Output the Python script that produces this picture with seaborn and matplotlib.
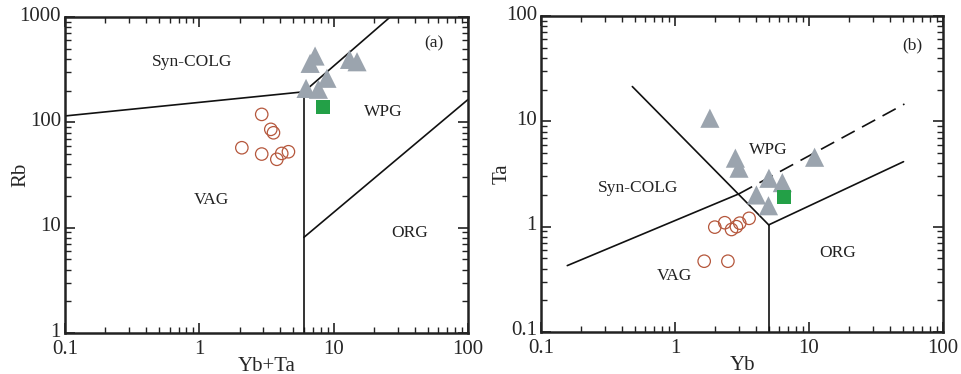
import numpy as np
import pandas as pd
import matplotlib
matplotlib.use("Agg")
import matplotlib.pyplot as plt
import seaborn as sns
from matplotlib.ticker import LogLocator, FuncFormatter, NullFormatter
from matplotlib.transforms import ScaledTranslation

# ---------------- data ----------------
# Panel (a): Rb vs Yb+Ta
a_tri_x = [6.67, 7.26, 8.9, 6.22, 7.69, 13.1, 14.9]
a_tri_y = [363, 426, 262, 210, 206, 396, 376]
a_sq_x = [8.3]
a_sq_y = [139]
a_cir_x = [2.91, 3.40, 3.56, 2.07, 2.91, 3.77, 4.10, 4.60]
a_cir_y = [119, 85.8, 79.6, 57.4, 50, 44.6, 50.7, 52.6]

# Panel (b): Ta vs Yb
b_tri_x = [1.82, 2.82, 3.0, 5.02, 6.32, 4.05, 4.98, 11.0]
b_tri_y = [10.7, 4.47, 3.59, 2.88, 2.62, 2.0, 1.58, 4.56]
b_sq_x = [6.5]
b_sq_y = [1.93]
b_cir_x = [1.98, 2.35, 2.64, 2.87, 3.04, 3.57, 1.65, 2.48]
b_cir_y = [0.99, 1.09, 0.94, 1.0, 1.08, 1.20, 0.47, 0.47]

# Boundary lines
a_line1_x = [0.1, 6]; a_line1_y = [115, 195]
a_line2_x = [6, 6]; a_line2_y = [1, 195]
a_line3_x = [6, 26.3]; a_line3_y = [195, 1000]
a_line4_x = [6, 100]; a_line4_y = [8.1, 165]

b_line1_x = [0.157, 3.0]; b_line1_y = [0.427, 2.05]
b_line2_x = [3.0, 51.5]; b_line2_y = [2.05, 14.6]
b_line3_x = [0.48, 5.0]; b_line3_y = [21.4, 1.04]
b_line4_x = [5.0, 5.0]; b_line4_y = [0.1, 1.04]
b_line5_x = [5.0, 50.7]; b_line5_y = [1.04, 4.14]

sns.set_style("white")
plt.rcParams['font.family'] = ['Liberation Serif', 'DejaVu Serif']
plt.rcParams['mathtext.fontset'] = 'stix'

fig = plt.figure(figsize=(9.62, 3.74), dpi=100)
ax1 = fig.add_axes([0.0676, 0.1096, 0.4190, 0.8449])
ax2 = fig.add_axes([0.5624, 0.1123, 0.4179, 0.8449])

tri_col = "#9ba4ae"
sq_col = "#23a047"
cir_col = "#b5573c"

def draw_points(ax, tx, ty, sx, sy, cx, cy):
    sns.scatterplot(x=tx, y=ty, ax=ax, marker="^", s=190, color=tri_col,
                    edgecolor="none", linewidth=0, zorder=3, legend=False)
    sns.scatterplot(x=cx, y=cy, ax=ax, marker="o", s=80, facecolor="none",
                    edgecolor=cir_col, linewidth=0.9, zorder=3, legend=False)
    sns.scatterplot(x=sx, y=sy, ax=ax, marker="s", s=100, color=sq_col,
                    edgecolor="none", linewidth=0, zorder=4, legend=False)

def style_axes(ax, xlim, ylim):
    ax.set_xscale("log"); ax.set_yscale("log")
    ax.set_xlim(*xlim); ax.set_ylim(*ylim)
    for s in ax.spines.values():
        s.set_linewidth(1.8); s.set_color("#222222")
    ax.xaxis.set_major_locator(LogLocator(base=10, numticks=10))
    ax.yaxis.set_major_locator(LogLocator(base=10, numticks=10))
    ax.xaxis.set_minor_locator(LogLocator(base=10, subs=np.arange(2, 10), numticks=20))
    ax.yaxis.set_minor_locator(LogLocator(base=10, subs=np.arange(2, 10), numticks=20))
    fmt = FuncFormatter(lambda v, p: "%g" % v)
    ax.xaxis.set_major_formatter(fmt); ax.yaxis.set_major_formatter(fmt)
    ax.xaxis.set_minor_formatter(NullFormatter()); ax.yaxis.set_minor_formatter(NullFormatter())
    ax.tick_params(which="both", direction="in", top=True, right=True,
                   bottom=True, left=True, color="#222222")
    ax.tick_params(which="major", length=7, width=1.2, labelsize=15)
    ax.tick_params(which="minor", length=4, width=1.0)
    ax.tick_params(axis="x", which="major", pad=5)
    ax.tick_params(axis="y", which="major", pad=3)

lw = 1.2
for x, y in [(a_line1_x, a_line1_y), (a_line2_x, a_line2_y), (a_line3_x, a_line3_y), (a_line4_x, a_line4_y)]:
    ax1.plot(x, y, color="#111111", lw=lw, zorder=2)
draw_points(ax1, a_tri_x, a_tri_y, a_sq_x, a_sq_y, a_cir_x, a_cir_y)
style_axes(ax1, (0.1, 100), (1, 1000))
ax1.set_xlabel("Yb+Ta", fontsize=15)
ax1.set_ylabel("Rb", fontsize=15)
ax1.xaxis.set_label_coords(0.5, -0.075)
ax1.yaxis.set_label_coords(-0.085, 0.5)

tk = dict(fontsize=12.5, color="#222222", ha="center", va="center")
ax1.text(0.315, 0.858, "Syn-COLG", transform=ax1.transAxes, **tk)
ax1.text(0.789, 0.70, "WPG", transform=ax1.transAxes, **tk)
ax1.text(0.362, 0.421, "VAG", transform=ax1.transAxes, **tk)
ax1.text(0.856, 0.316, "ORG", transform=ax1.transAxes, **tk)
ax1.text(0.916, 0.915, "(a)", transform=ax1.transAxes, **tk)

for x, y in [(b_line1_x, b_line1_y), (b_line3_x, b_line3_y), (b_line4_x, b_line4_y), (b_line5_x, b_line5_y)]:
    ax2.plot(x, y, color="#111111", lw=lw, zorder=2)
ax2.plot(b_line2_x, b_line2_y, color="#111111", lw=lw, zorder=2, dashes=(9, 5))
draw_points(ax2, b_tri_x, b_tri_y, b_sq_x, b_sq_y, b_cir_x, b_cir_y)
style_axes(ax2, (0.1, 100), (0.1, 100))
ax2.set_xlabel("Yb", fontsize=15)
ax2.set_ylabel("Ta", fontsize=15)
ax2.xaxis.set_label_coords(0.5, -0.075)
ax2.yaxis.set_label_coords(-0.074, 0.5)

ax2.text(0.242, 0.455, "Syn-COLG", transform=ax2.transAxes, **tk)
ax2.text(0.565, 0.576, "WPG", transform=ax2.transAxes, **tk)
ax2.text(0.332, 0.177, "VAG", transform=ax2.transAxes, **tk)
ax2.text(0.737, 0.249, "ORG", transform=ax2.transAxes, **tk)
ax2.text(0.924, 0.906, "(b)", transform=ax2.transAxes, **tk)

fig.canvas.draw()
shift = ScaledTranslation(0, 3.5 / 100, fig.dpi_scale_trans)
for ax in (ax1, ax2):
    for t in ax.yaxis.get_major_ticks():
        t.label1.set_transform(t.label1.get_transform() + shift)

fig.savefig("out.png", dpi=100, facecolor="white")
